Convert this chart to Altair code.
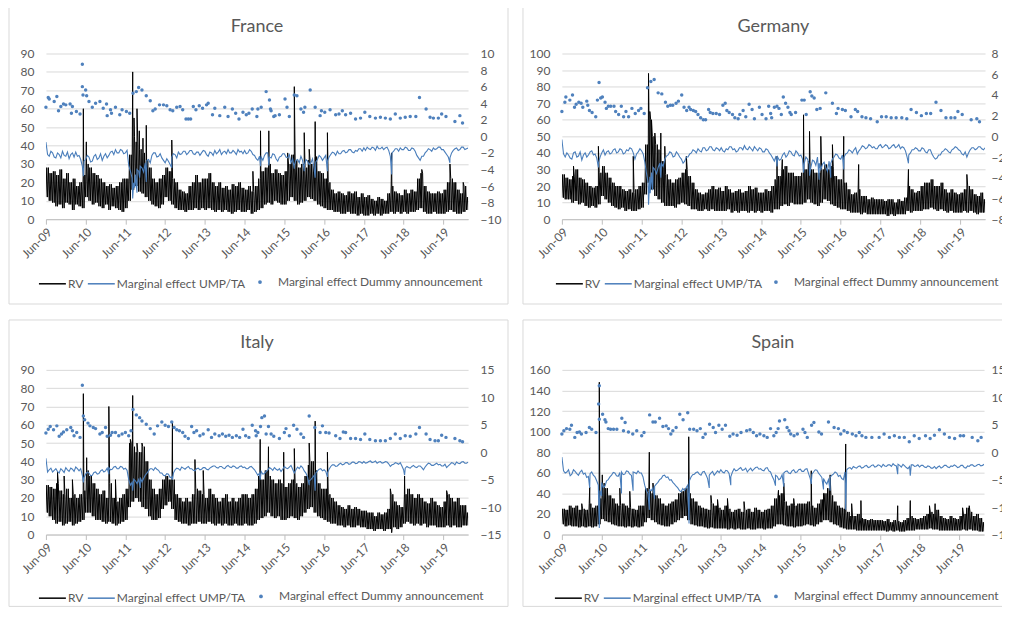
import altair as alt
import pandas as pd

# ---------------- data (t = months since Jun-2009) ----------------
SERIES = ["RV", "Marginal effect UMP/TA", "Marginal effect Dummy announcement"]

# France
FR_LO = [12,10,9,7,8,6,9,8,5,8,7,6, 12,10,8,9,7,6,8,5,7,6,5,4, 6,10,16,18,15,14,12,10,8,7,6,8,
         12,10,8,6,5,5,4,5,5,6,5,6, 5,6,5,4,5,4,5,4,3,4,5,4, 4,5,3,4,5,6,8,9,8,10,9,8,
         8,10,12,10,8,9,10,12,11,10,8,7, 6,5,5,4,4,3,3,4,3,3,2,3, 2,2,3,2,3,2,3,3,4,3,4,3,
         4,3,4,4,5,6,4,3,3,4,3,3, 3,4,5,4,3,3,4,5]
FR_HI = [28,25,26,24,27,22,25,20,22,18,20,24, 30,28,25,24,22,20,18,19,17,18,20,22, 22,35,45,42,38,36,32,28,22,20,22,24,
         28,26,22,20,16,15,14,18,20,24,20,22, 22,25,20,18,20,17,18,16,19,18,20,17, 16,18,15,18,22,26,28,30,25,27,25,24,
         26,30,35,32,28,30,28,32,30,34,26,25, 22,20,16,14,15,14,13,15,14,15,12,14, 12,13,11,10,12,11,10,14,18,15,14,13,
         16,14,16,15,22,25,18,15,14,14,15,14, 16,20,22,20,16,14,18,12]
FR_SPIKES = [(11.3,60),(12.2,42),(26.2,80),(26.6,55),(27.5,60),(28.2,48),(29.3,44),(30.3,51),(38.0,43),(62.5,26),
             (64.8,48),(67.3,48),(73.0,36),(75.0,72),(78.0,47),(79.5,38),(81.3,53),(85.0,47),(104.4,36),(113.5,27),
             (122.0,30),(126.0,20)]
FR_UMP = [-0.7,-2.4,-2.0,-2.6,-2.2,-1.8,-2.4,-2.7,-2.0,-1.9,-2.3,-3.6,
          -2.8,-2.5,-3.0,-2.2,-2.6,-2.9,-2.1,-2.3,-1.8,-1.6,-2.0,-1.7,
          -2.0,-3.5,-5.0,-4.6,-4.2,-3.8,-3.2,-2.8,-2.3,-2.0,-2.4,-2.6,
          -3.2,-3.0,-2.5,-2.2,-1.9,-2.1,-1.8,-2.0,-1.7,-2.2,-1.9,-2.0,
          -1.8,-2.4,-2.0,-1.7,-1.9,-2.2,-1.8,-1.6,-2.0,-1.9,-1.6,-1.8,
          -1.7,-2.0,-1.8,-2.3,-2.9,-2.5,-2.3,-2.0,-2.6,-2.2,-3.0,-2.4,
          -2.1,-2.6,-3.2,-3.5,-2.8,-2.4,-3.6,-3.0,-3.2,-4.0,-2.8,-2.5,
          -2.6,-3.0,-2.2,-2.0,-1.8,-2.1,-1.7,-1.9,-1.6,-2.0,-1.8,-1.5,
          -1.4,-1.3,-1.6,-1.4,-1.2,-1.5,-1.6,-1.3,-2.4,-1.8,-1.5,-1.4,
          -1.6,-1.4,-1.7,-1.5,-2.3,-2.9,-2.4,-1.8,-1.6,-1.4,-1.5,-1.3,
          -1.6,-2.2,-2.6,-1.7,-1.4,-1.6,-1.3,-1.5]
FR_UMP_MID = [-2.2,-1.8,-2.5,-2.0,-2.6,-2.3,-1.9,-2.2,-2.5,-2.4,-2.8,-3.0,
              -2.3,-3.1,-2.4,-2.8,-2.1,-2.4,-2.6,-1.9,-2.2,-2.0,-1.6,-2.1,
              -1.7,-4.2,-5.6,-4.0,-3.6,-4.3,-2.9,-3.2,-2.0,-2.5,-2.1,-2.9,
              -2.7,-3.4,-2.1,-2.6,-2.2,-1.8,-2.2,-1.7,-2.1,-1.9,-2.3,-1.7,
              -2.2,-1.9,-2.3,-2.1,-1.6,-1.9,-2.1,-2.0,-1.7,-2.2,-1.9,-2.1,
              -2.1,-1.6,-2.2,-2.7,-2.4,-2.9,-2.0,-2.5,-2.1,-2.7,-2.5,-2.1,
              -2.5,-2.2,-2.7,-2.9,-3.2,-2.9,-2.8,-3.4,-2.7,-3.1,-2.3,-2.9,
              -2.3,-2.5,-1.9,-2.3,-2.1,-1.8,-2.0,-1.6,-1.9,-1.7,-1.5,-1.8,
              -1.7,-1.5,-1.3,-1.7,-1.5,-1.3,-1.4,-1.7,-2.0,-1.5,-1.8,-1.6,
              -1.3,-1.7,-1.4,-1.8,-2.6,-2.4,-2.0,-1.5,-1.8,-1.6,-1.3,-1.6,
              -1.9,-2.5,-2.0,-1.5,-1.7,-1.3,-1.6,-1.4]
FR_DIPS = [(11.3,-4.8),(26.2,-7.5),(26.8,-6.2),(27.5,-6.8),(28.3,-5.0),(30.3,-5.5),(38.0,-3.8),(64.8,-3.6),
           (67.3,-3.5),(75.0,-3.9),(78.0,-4.2),(81.3,-5.0),(85.0,-4.2),(104.4,-4.6),(122.0,-3.2)]
FR_DOTS = [(0,3.5),(0.7,4.7),(1,4.5),(2.5,4.2),(3.3,4.8),(3.8,3.1),(4.5,3.6),(5.3,3.9),(6,3.8),(7.3,3.9),(7.7,2.8),
           (8,3.6),(9.2,3.0),(10.3,2.7),(11,8.7),(11,6.0),(11.2,5.0),(12,5.6),(12.3,4.9),(13,4.2),(14,3.5),(15,4.0),
           (16.3,4.2),(17.3,3.4),(18.3,3.9),(18.5,2.5),(19.5,3.2),(19.8,2.8),(21,3.5),(22.3,2.6),(23,3.2),(24.3,3.0),
           (25.3,2.8),(26.3,5.2),(27.3,5.4),(28,5.9),(29,5.6),(30.3,4.9),(31.5,4.3),(32.3,3.1),(33,3.3),(34.3,3.8),
           (35.5,3.8),(36.5,3.7),(37.5,3.2),(38.3,3.1),(39.5,3.5),(40.5,3.6),(41.3,3.2),(42.3,2.1),(43,2.1),(43.7,2.1),
           (44.5,3.6),(45.3,3.2),(46.3,3.7),(47.3,3.4),(48.5,3.8),(49,4.0),(50.3,2.6),(51,3.4),(52.5,2.5),(54,3.5),
           (55,2.4),(56.3,3.3),(57.3,2.8),(58.3,2.1),(59.5,2.9),(60.5,2.6),(61.3,2.8),(62.3,3.3),(63.7,2.4),(64,3.3),
           (65,3.5),(66.5,5.4),(67.5,4.4),(67.8,3.3),(68,3.1),(68.8,2.4),(69.2,2.5),(70.5,2.6),(72.2,4.5),(72.8,3.5),
           (73.5,2.4),(75,5.0),(75.8,4.9),(77,3.3),(77.8,2.9),(78.2,3.5),(79.8,5.6),(81.3,3.5),(82.8,2.5),(83.2,3.1),
           (84.2,2.9),(85.8,3.2),(87.5,2.6),(88.5,2.7),(89.5,3.1),(90.5,2.6),(92,2.8),(93.5,2.1),(95,2.2),(96.3,2.9),
           (97.8,2.4),(99.5,2.2),(101,2.3),(102.5,2.2),(104,2.1),(105.5,2.7),(107,2.2),(108.5,2.3),(110,2.4),
           (111.7,2.4),(112.8,4.7),(114.8,3.3),(116,2.3),(117,2.2),(118.5,2.2),(119.5,2.7),(120.8,2.4),(123.5,1.8),
           (125,2.5),(125.8,1.6)]

# Germany
DE_LO = [13,12,12,10,11,9,10,8,7,8,7,9, 14,12,10,8,7,6,7,5,6,5,5,6, 7,15,22,18,14,12,10,8,8,8,7,9,
         10,9,8,6,6,5,5,6,5,6,5,5, 5,5,6,4,5,4,5,5,4,5,4,5, 4,5,5,4,6,6,8,9,8,10,9,9,
         9,10,12,10,9,8,10,12,11,9,8,7, 6,6,5,4,4,4,3,4,3,3,3,3, 3,3,2,3,2,3,3,3,5,4,5,5,
         5,6,6,7,6,5,6,5,4,5,4,4, 4,5,4,5,4,3,4,4]
DE_HI = [27,25,24,26,30,25,24,22,20,19,20,28, 32,28,25,22,20,20,18,17,18,16,18,20, 22,45,60,50,45,42,35,27,24,22,24,25,
         28,30,26,22,18,16,15,16,18,20,18,19, 17,20,18,16,17,18,16,17,20,18,19,16, 16,18,17,20,24,26,30,32,28,28,26,26,
         28,30,35,30,28,28,30,33,30,32,26,24, 24,22,18,15,16,18,14,14,12,13,12,12, 12,11,12,12,10,12,11,13,20,18,16,17,
         20,22,22,24,20,20,22,18,16,18,16,15, 16,18,20,18,15,14,16,12]
DE_SPIKES = [(3.5,32),(11.0,44),(21.5,38),(26.1,88),(26.5,65),(27.0,60),(28.0,52),(29.8,52),(31.0,44),(37.5,38),
             (64.8,38),(66.4,36),(72.8,63),(74.6,53),(78.0,50),(81.5,45),(84.9,50),(89.4,33),(104.4,30),(122.0,27)]
DE_UMP = [-0.3,-2.0,-1.8,-2.2,-1.5,-1.9,-2.3,-1.6,-1.8,-1.4,-1.7,-2.6,
          -1.6,-1.8,-1.4,-1.6,-1.2,-1.5,-1.3,-1.6,-1.4,-1.2,-2.2,-1.5,
          -1.4,-2.5,-4.5,-3.5,-3.2,-3.0,-2.6,-2.2,-1.8,-1.6,-1.9,-1.7,
          -2.2,-2.4,-2.0,-1.6,-1.4,-1.2,-1.5,-1.1,-1.3,-1.0,-1.4,-1.2,
          -1.1,-1.5,-1.3,-1.0,-1.2,-1.4,-1.1,-0.9,-1.3,-1.2,-1.0,-1.4,
          -1.2,-1.5,-1.3,-1.8,-2.4,-2.0,-2.2,-1.6,-1.8,-1.5,-1.9,-1.6,
          -1.8,-2.6,-2.2,-3.0,-2.4,-2.0,-3.2,-2.5,-3.4,-2.6,-2.0,-1.8,
          -2.2,-2.0,-1.6,-1.4,-1.3,-1.7,-1.2,-1.0,-1.1,-0.9,-1.0,-1.2,
          -0.8,-1.0,-0.9,-1.1,-0.8,-1.0,-1.2,-1.1,-2.0,-1.6,-1.3,-1.2,
          -1.4,-1.2,-1.6,-1.3,-2.0,-2.1,-1.8,-1.4,-1.3,-1.6,-1.2,-1.1,
          -1.4,-1.8,-2.0,-1.3,-1.1,-1.2,-1.0,-1.3]
DE_UMP_MID = [-1.7,-1.6,-2.1,-1.6,-2.0,-1.5,-1.8,-2.0,-1.5,-1.8,-2.1,-2.0,
              -1.3,-1.5,-1.7,-1.3,-1.6,-1.2,-1.7,-1.3,-1.1,-1.6,-1.7,-1.2,
              -1.7,-3.6,-3.9,-3.0,-3.6,-2.6,-2.9,-1.9,-1.5,-2.0,-1.5,-2.0,
              -2.6,-2.0,-1.7,-1.3,-1.6,-1.4,-1.1,-1.4,-1.0,-1.3,-1.1,-1.4,
              -1.4,-1.2,-1.0,-1.3,-1.5,-1.1,-1.3,-1.2,-1.0,-1.4,-1.2,-1.1,
              -1.5,-1.2,-1.6,-2.1,-1.9,-2.3,-1.8,-2.0,-1.4,-1.8,-1.4,-1.9,
              -2.2,-2.0,-2.7,-2.3,-2.8,-2.6,-2.7,-3.0,-2.4,-2.2,-1.7,-2.1,
              -1.8,-1.7,-1.3,-1.6,-1.1,-1.4,-0.9,-1.2,-0.8,-1.1,-1.2,-0.9,
              -1.1,-0.8,-1.2,-0.9,-1.1,-0.8,-1.0,-1.4,-1.8,-1.3,-1.1,-1.4,
              -1.1,-1.5,-1.3,-1.7,-2.2,-1.8,-1.5,-1.2,-1.5,-1.3,-1.0,-1.3,
              -1.7,-1.5,-1.6,-1.1,-1.3,-1.0,-1.2,-1.1]
DE_DIPS = [(11.0,-3.0),(26.1,-6.6),(26.6,-5.5),(27.3,-5.2),(29.8,-4.0),(64.8,-2.9),(72.8,-3.5),(74.6,-3.8),
           (77.5,-4.2),(81.0,-4.0),(84.9,-3.2),(104.4,-2.6)]
DE_DOTS = [(0,2.4),(0.9,3.3),(1.2,3.8),(2.4,3.5),(3.2,4.0),(3.8,2.8),(4.3,3.1),(5.1,3.3),(5.8,3.2),(6.3,2.8),
           (7.5,3.4),(7.8,3.0),(8.3,2.5),(9.1,2.3),(10.2,1.9),(10.7,3.5),(11.2,5.2),(11.7,3.7),(12.2,3.8),(13,3.3),
           (13.4,2.7),(14,2.9),(14.7,2.9),(15.7,2.9),(16.2,2.4),(17.1,2.1),(17.9,2.9),(18.6,1.9),(19.3,2.4),(20.1,1.9),
           (21.1,2.7),(22.1,2.2),(23.1,2.5),(23.8,2.7),(24.8,2.2),(25.8,4.7),(26.8,5.3),(27.8,5.5),(29,4.2),(30.1,4.1),
           (31.2,3.3),(31.9,2.9),(32.7,3.0),(33.4,3.0),(34.4,3.2),(35.1,3.4),(36.1,4.0),(36.8,2.8),(37.6,2.5),
           (38.3,2.8),(38.8,2.6),(39.6,2.5),(40.3,2.4),(41,2.1),(41.8,1.8),(42.6,1.6),(43.3,1.6),(44.2,2.6),(44.7,2.3),
           (45.5,2.2),(46.5,2.2),(47.5,2.1),(48.5,3.0),(49.2,3.2),(49.7,2.5),(50.4,2.3),(51.4,2.1),(52.1,1.8),
           (53.1,1.7),(53.6,2.1),(54.6,2.5),(55.4,1.9),(56.4,3.1),(57.3,2.6),(58,1.7),(59.5,2.8),(60.3,2.1),(61.5,1.7),
           (62.3,2.9),(62.9,2.2),(63.2,1.8),(64,2.8),(64.8,2.9),(65.4,2.7),(66.1,2.1),(66.7,3.8),(67.4,3.2),(68.1,2.8),
           (68.7,2.3),(69.1,2.1),(70.4,2.3),(72.3,3.5),(73,3.5),(73.6,2.1),(74.8,4.3),(75.3,3.9),(76,3.7),(76.8,2.6),
           (77.8,2.7),(79.5,4.2),(81.5,3.2),(82.7,2.2),(83.2,2.7),(84.5,2.6),(85.4,2.5),(87.1,1.9),(88.4,2.6),
           (89.1,2.4),(90.4,1.9),(91.6,1.8),(93,1.7),(95,1.4),(96.3,1.9),(97.7,1.9),(99.2,1.8),(100.7,1.8),(102.4,1.8),
           (103.9,1.7),(105.2,2.6),(106.8,2.3),(108.3,2.0),(109.8,2.2),(111.1,2.2),(112.7,3.3),(114.2,2.5),
           (115.7,1.8),(117.2,1.8),(118.4,1.8),(119.3,2.4),(120.6,2.1),(123.3,1.6),(125,1.7),(125.8,1.4)]

# Italy
IT_LO = [12,10,8,6,7,5,6,7,5,6,7,8, 12,12,10,8,8,7,6,7,6,5,6,7, 8,15,18,20,18,15,14,10,8,8,9,14,
         16,18,14,8,7,6,6,5,6,6,7,6, 6,7,6,5,6,5,6,5,5,6,5,5, 6,5,5,6,8,9,10,12,10,9,10,8,
         8,9,10,9,8,10,12,14,15,12,10,9, 8,7,6,6,5,5,4,5,4,4,5,4, 4,3,3,2,3,3,2,3,3,4,3,4,
         6,7,6,5,6,5,6,4,5,5,4,4, 4,5,4,5,4,4,5,5]
IT_HI = [27,26,25,28,24,22,25,20,22,20,22,24, 35,32,28,25,22,24,20,28,20,18,20,22, 25,50,48,45,45,48,40,30,25,22,25,30,
         32,30,30,22,20,18,20,18,22,25,24,22, 20,25,22,20,18,20,22,18,20,18,20,22, 22,20,22,25,32,30,35,32,30,28,30,28,
         26,28,30,28,26,28,32,38,40,35,28,25, 25,22,20,18,16,15,14,16,14,15,14,13, 13,12,12,10,12,11,12,14,22,18,16,15,
         22,25,22,20,22,20,18,17,20,18,16,15, 18,22,20,18,20,16,16,12]
IT_SPIKES = [(3.5,34),(5.5,32),(8.0,30),(11.3,77),(12.3,42),(19.0,70),(21.0,30),(25.5,52),(26.2,76),(27.5,50),
             (29.0,50),(38.2,61),(45.0,41),(47.5,35),(64.7,52),(67.2,48),(71.8,45),(75.0,47),(79.5,50),(81.3,62),
             (85.0,45),(104.0,25),(104.4,1),(108.3,32),(121.0,24)]
IT_UMP = [-1.1,-3.2,-3.6,-3.0,-3.8,-3.3,-2.8,-3.5,-3.1,-2.7,-3.4,-4.2,
          -4.0,-3.8,-4.2,-3.6,-3.9,-3.2,-3.4,-2.8,-3.1,-2.6,-3.0,-2.7,
          -2.9,-5.0,-5.5,-5.2,-5.0,-5.4,-4.2,-3.4,-3.0,-2.8,-3.3,-3.8,
          -4.3,-4.0,-4.5,-3.2,-3.0,-2.7,-3.1,-2.6,-3.0,-3.4,-2.9,-3.1,
          -2.8,-3.2,-2.7,-2.5,-2.9,-2.6,-3.0,-2.4,-2.8,-2.6,-2.9,-2.5,
          -2.7,-3.0,-2.6,-3.2,-4.2,-3.5,-3.9,-3.2,-3.0,-2.8,-3.3,-3.5,
          -2.6,-3.0,-2.4,-3.8,-2.7,-2.5,-3.4,-4.5,-5.0,-4.2,-3.4,-3.0,
          -3.2,-3.8,-2.6,-2.3,-2.5,-2.0,-2.2,-1.9,-2.1,-1.8,-2.0,-1.8,
          -1.7,-1.9,-1.6,-1.8,-2.0,-1.7,-1.9,-1.8,-2.6,-2.2,-2.0,-1.9,
          -3.2,-2.6,-2.9,-2.4,-2.8,-2.5,-3.2,-2.3,-2.1,-2.4,-2.0,-2.2,
          -2.5,-2.8,-2.2,-2.0,-1.8,-2.1,-1.7,-2.0]
IT_UMP_MID = [-3.6,-2.9,-3.3,-3.5,-3.0,-3.7,-3.2,-2.9,-3.5,-3.0,-3.0,-4.6,
              -3.6,-4.3,-3.7,-4.0,-3.4,-3.6,-2.9,-3.2,-2.7,-3.0,-2.6,-3.1,
              -3.3,-6.0,-4.9,-5.7,-4.6,-4.8,-3.8,-3.0,-3.3,-3.1,-3.8,-4.2,
              -3.9,-4.6,-3.8,-2.9,-3.3,-2.9,-2.8,-3.0,-3.3,-3.0,-3.2,-2.8,
              -3.1,-2.9,-2.5,-2.8,-2.6,-2.9,-2.6,-2.7,-2.5,-2.9,-2.6,-2.8,
              -3.0,-2.7,-2.9,-3.7,-3.8,-4.0,-3.5,-2.8,-3.3,-3.1,-3.0,-3.1,
              -2.9,-2.7,-3.1,-3.2,-3.0,-2.8,-3.8,-5.2,-4.6,-3.8,-3.1,-3.4,
              -3.5,-3.1,-2.3,-2.6,-2.2,-2.3,-1.9,-2.2,-1.8,-2.1,-1.7,-2.0,
              -2.0,-1.7,-1.9,-1.6,-1.8,-2.0,-1.7,-2.1,-2.3,-1.9,-2.2,-2.5,
              -2.9,-2.8,-2.6,-2.7,-2.5,-2.8,-2.7,-2.0,-2.4,-2.2,-2.3,-2.5,
              -2.2,-2.5,-1.9,-2.3,-2.0,-1.8,-2.0,-1.8]
IT_DIPS = [(11.3,-5.5),(19.0,-4.0),(25.5,-6.0),(26.2,-7.0),(28.5,-6.5),(38.2,-5.0),(64.7,-5.0),(79.5,-6.0),
           (81.3,-7.0),(85.0,-4.5),(108.3,-4.2)]
IT_DOTS = [(0,3.5),(0.7,4.2),(1.3,4.7),(2.3,4.1),(3.3,4.8),(4,2.9),(4.7,3.3),(5.3,3.7),(6.3,4.1),(7.5,4.5),(8,3.9),
           (8.5,3.0),(9.3,3.6),(10.3,2.7),(11,12.2),(11.3,6.6),(11.7,5.9),(12.7,5.3),(13.3,4.8),(14.3,4.5),(15,4.3),
           (16.3,3.3),(17,3.6),(18,4.5),(18.5,2.9),(19.5,3.1),(20,3.6),(21,3.6),(22,3.0),(23,3.3),(24,3.6),(25,3.0),
           (25.7,3.9),(26.3,7.8),(27.3,6.8),(28.3,6.3),(29,5.7),(30.3,5.1),(31.5,4.3),(32.7,3.3),(33.7,4.8),(35,5.5),
           (36,4.9),(37,4.7),(38,5.5),(38.7,4.5),(39.5,4.1),(40.3,3.9),(41.3,3.6),(42,2.9),(43,2.5),(44,4.7),(44.7,3.6),
           (45.5,3.9),(46.5,3.0),(47.5,3.3),(49,4.1),(50,2.7),(51,3.3),(52.3,3.0),(53.3,3.3),(54.3,2.9),(55.3,3.1),
           (56.3,2.7),(57.5,3.0),(58.5,2.7),(59.5,4.2),(60.3,3.0),(61.3,2.7),(62.3,4.9),(63.3,3.9),(63.5,3.0),(64,3.6),
           (64.8,4.7),(65.2,6.3),(66,6.6),(66.5,3.3),(67.2,4.7),(68,3.3),(68.8,2.9),(70.5,2.5),(72,3.6),(72.5,4.3),
           (73.5,3.0),(74.8,4.9),(75.8,4.2),(77,3.3),(77.8,2.7),(79.5,6.6),(81.2,4.5),(82.8,3.6),(83.5,4.8),(84.5,3.6),
           (85.5,3.5),(87.5,3.0),(88.8,2.5),(89.8,3.7),(90.5,3.6),(92,2.5),(93.5,2.5),(95,2.3),(96.3,3.3),(97.8,2.3),
           (99.5,2.1),(101,2.1),(102.5,2.1),(104,2.5),(105.5,3.3),(107,2.5),(108.5,3.0),(110,2.9),(111.7,3.3),
           (112.8,4.5),(114.8,3.3),(116,2.3),(117.5,2.1),(118.5,2.1),(119.5,3.1),(120.8,2.7),(123.5,2.5),(125,2.1),
           (125.8,1.9)]

# Spain
ES_LO = [10,8,9,8,8,7,8,7,8,7,8,10, 15,13,12,10,9,8,8,7,8,7,8,7, 8,12,16,14,12,10,9,8,8,10,12,14,
         16,18,14,10,9,8,8,7,6,7,6,6, 6,6,5,6,5,6,5,5,6,5,5,6, 6,5,6,6,8,10,10,9,8,8,7,8,
         8,9,10,9,8,10,12,14,14,12,10,9, 7,6,5,5,5,4,4,4,4,4,4,4, 4,4,3,4,3,4,3,3,4,4,4,5,
         5,5,5,6,5,5,4,4,4,4,4,4, 4,5,4,5,4,4,3,3]
ES_HI = [25,24,28,26,28,24,25,24,30,26,28,35, 50,45,38,35,30,28,30,28,26,25,24,28, 28,45,42,40,38,35,30,28,30,32,34,40,
         42,45,40,35,32,28,26,25,24,30,28,26, 24,28,25,22,24,25,22,24,25,22,26,24, 22,24,25,28,35,38,40,32,28,30,28,30,
         30,30,32,28,26,30,34,40,45,38,32,28, 26,25,22,18,18,20,16,15,14,15,14,14, 14,13,15,12,14,13,12,14,16,18,16,15,
         16,18,20,22,20,24,18,16,15,18,16,15, 18,20,26,22,18,20,16,12]
ES_SPIKES = [(6.0,30),(8.4,46),(11.3,148),(12.2,58),(17.5,45),(20.5,42),(26.4,80),(27.5,50),(38.3,95),(45.0,38),
             (47.0,34),(50.0,35),(55.0,32),(65.4,43),(67.0,50),(70.0,35),(75.3,62),(79.0,40),(81.0,58),(85.7,88),
             (87.5,30),(90.3,33),(101.4,28),(105.2,33),(111.0,28),(112.7,30),(121.0,26),(123.0,28)]
ES_UMP = [-0.9,-3.8,-3.2,-4.0,-3.5,-4.2,-3.3,-3.8,-4.4,-3.6,-4.5,-6.0,
          -5.5,-6.2,-5.0,-4.2,-3.8,-4.4,-3.6,-4.0,-3.5,-4.2,-3.7,-3.4,
          -3.8,-6.0,-7.5,-7.0,-6.2,-5.5,-4.8,-4.2,-4.5,-5.0,-5.8,-6.5,
          -7.2,-7.0,-6.0,-4.5,-4.0,-3.6,-4.2,-3.5,-4.8,-3.8,-4.2,-3.4,
          -3.2,-3.8,-3.4,-4.5,-3.0,-3.3,-2.8,-3.2,-3.6,-2.9,-3.1,-2.7,
          -3.0,-3.4,-2.8,-3.6,-5.0,-4.4,-4.8,-3.8,-3.4,-3.9,-3.2,-3.6,
          -3.1,-3.5,-3.0,-4.8,-3.6,-3.3,-4.2,-4.8,-5.8,-4.6,-4.0,-3.8,
          -4.2,-5.0,-3.2,-2.8,-2.6,-2.9,-2.5,-2.8,-2.4,-2.7,-2.3,-2.6,
          -2.4,-2.2,-2.6,-2.3,-2.1,-2.5,-2.4,-2.2,-2.8,-2.6,-2.3,-2.5,
          -2.7,-2.4,-2.8,-2.6,-2.9,-3.0,-2.5,-2.7,-2.4,-2.8,-2.6,-2.5,
          -2.7,-2.4,-2.9,-2.6,-2.3,-2.5,-2.2,-2.4]
ES_UMP_MID = [-3.4,-3.6,-4.3,-3.2,-3.9,-3.6,-4.0,-4.6,-3.9,-4.2,-5.2,-7.0,
              -6.4,-5.2,-4.5,-3.7,-4.3,-3.7,-4.1,-3.4,-4.0,-3.6,-3.9,-3.8,
              -4.5,-7.0,-6.8,-6.5,-5.8,-5.0,-4.3,-4.6,-5.1,-5.5,-6.2,-7.0,
              -6.6,-6.5,-5.2,-4.1,-3.7,-4.0,-3.6,-4.1,-4.2,-3.5,-3.8,-3.7,
              -3.6,-3.3,-3.9,-3.6,-3.4,-3.0,-3.3,-2.9,-3.2,-3.4,-2.8,-3.1,
              -3.3,-2.9,-3.4,-4.4,-4.2,-5.0,-4.1,-3.5,-3.8,-3.4,-3.7,-3.2,
              -3.5,-3.1,-3.9,-4.0,-3.2,-3.8,-4.6,-5.4,-5.0,-4.2,-3.6,-4.4,
              -4.8,-3.6,-2.9,-3.1,-2.8,-2.6,-2.9,-2.5,-2.8,-2.4,-2.7,-2.3,
              -2.7,-2.5,-2.3,-2.6,-2.4,-2.2,-2.7,-2.5,-3.0,-2.3,-2.6,-2.3,
              -2.4,-2.7,-2.5,-2.9,-2.6,-2.7,-2.9,-2.4,-2.7,-2.5,-2.3,-2.8,
              -2.4,-2.8,-2.5,-2.3,-2.6,-2.3,-2.5,-2.2]
ES_DIPS = [(8.4,-6.5),(11.3,-13.8),(12.0,-8.0),(18.0,-7.5),(21.5,-7.0),(26.4,-10.5),(28.0,-8.5),(38.4,-13.0),
           (44.5,-6.5),(51.0,-6.0),(64.5,-6.1),(67.0,-6.3),(75.3,-5.8),(79.0,-6.8),(81.0,-7.0),(85.7,-10.5),
           (101.4,-4.0),(105.2,-4.3)]
ES_DOTS = [(0,3.3),(0.6,3.9),(1.4,4.3),(2.4,4.2),(2.9,4.9),(3.9,2.7),(4.6,3.6),(5.3,3.7),(5.9,3.3),(7.3,3.6),
           (8.3,4.5),(9,4.2),(10.3,3.6),(11.1,8.8),(11.3,12.1),(11.3,6.0),(12.3,6.9),(13,5.9),(13.3,5.5),(14,4.3),
           (14.7,4.2),(15.6,4.2),(16.6,4.2),(18.1,6.2),(18.6,3.9),(19.1,5.4),(20.1,3.7),(21.4,3.3),(22.6,3.9),(24.1,3.0),
           (24.8,3.6),(26.5,6.8),(27.5,5.5),(28.2,5.5),(29.5,6.2),(30.5,4.7),(31.5,4.8),(32.2,4.3),(32.9,3.3),(33.5,3.9),
           (34.5,4.5),(35.6,6.9),(36.6,5.9),(38,7.2),(38.6,4.2),(39.8,4.2),(40.8,3.9),(41.8,4.3),(42.6,2.7),(43.3,3.3),
           (44.6,5.1),(45.7,4.5),(46.4,3.6),(47.4,4.9),(48.4,4.2),(49.4,4.9),(50.7,2.9),(51.7,3.3),(52.9,3.1),(54.1,3.6),
           (55.8,3.9),(56.8,4.1),(57.8,3.6),(58.8,3.0),(59.8,3.3),(61,3.0),(62,2.7),(63,4.3),(64,3.0),(64.7,3.6),
           (65.3,4.3),(65.7,5.7),(67.3,5.9),(68,4.5),(68.6,3.9),(69.1,3.3),(70.1,3.0),(71.1,3.3),(72.8,4.2),(73.4,3.6),
           (74.1,2.7),(75.4,4.9),(76.1,5.4),(77.6,3.7),(78.4,3.3),(80.5,5.5),(82.2,4.5),(83.5,4.3),(84.2,3.3),(85.2,3.9),
           (86.2,3.6),(87.7,3.3),(88.8,3.0),(89.8,3.6),(90.6,3.0),(91.8,2.7),(93.6,2.7),(95.8,2.7),(97.3,3.3),(98.9,2.7),
           (100.4,3.0),(101.9,2.7),(103.4,2.7),(104.9,1.9),(106.4,3.0),(107.9,2.5),(109.8,3.0),(111.2,2.5),(112.5,3.1),
           (114,4.1),(115.5,3.3),(117,2.7),(118.6,2.5),(120.3,3.0),(121.3,3.0),(123.9,2.7),(125.6,2.1),(126.6,2.7)]

# ---------------- styling ----------------
FONT = "Lato"
GREY = "#595959"
GRID = "#d9d9d9"
LINE_BLUE = "#4a7ebb"
DOT_BLUE = "#4f81bd"
START = pd.Timestamp("2009-06-01")
T_END = 127.5


def to_dates(ts):
    return [START + pd.Timedelta(days=float(t) * 30.4375) for t in ts]


END = to_dates([T_END])[0]
XDOM = [alt.DateTime(year=2009, month=6, date=1),
        alt.DateTime(year=END.year, month=END.month, date=END.day)]
XTICKS = [alt.DateTime(year=y, month=6, date=1) for y in range(2009, 2020)]


def line_legend(lx, ly):
    return alt.Legend(title=None, orient="none", legendX=lx, legendY=ly, direction="horizontal",
                      symbolType="stroke", symbolSize=729, symbolStrokeWidth=1.5,
                      labelFont=FONT, labelFontSize=12, labelColor=GREY, labelOffset=1,
                      labelLimit=400, columnPadding=1, padding=0)


def dot_legend(lx, ly):
    return alt.Legend(title=None, orient="none", legendX=lx, legendY=ly, direction="horizontal",
                      symbolType="circle", symbolSize=14, symbolStrokeWidth=0,
                      labelFont=FONT, labelFontSize=12, labelColor=GREY, labelOffset=12,
                      labelLimit=400, padding=0)


def panel(name, lo, hi, spikes, ump, ump_mid, dips, dots, ymax, ystep, rlim, rstep, w, h, border,
          lx, ly, dx, rpad, toff):
    rv = [(i + f, v) for i in range(len(lo)) for f, v in ((0, lo[i]), (0.25, hi[i]), (0.5, lo[i]), (0.75, hi[i]))]
    rv = sorted(rv + list(spikes))
    um = sorted([(i, v) for i, v in enumerate(ump)] + [(i + 0.5, v) for i, v in enumerate(ump_mid)] + list(dips))
    rv_df = pd.DataFrame({"date": to_dates([p[0] for p in rv]), "value": [p[1] for p in rv], "series": SERIES[0]})
    um_df = pd.DataFrame({"date": to_dates([p[0] for p in um]), "value": [p[1] for p in um], "series": SERIES[1]})
    dt_df = pd.DataFrame({"date": to_dates([p[0] for p in dots]), "value": [p[1] for p in dots], "series": SERIES[2]})

    x = alt.X("date:T", scale=alt.Scale(domain=XDOM),
              axis=alt.Axis(values=XTICKS, format="%b-%y", labelAngle=315, title=None, grid=False,
                            domainColor="#bfbfbf", tickColor="#bfbfbf", tickSize=5, labelPadding=2,
                            labelFlush=False, labelOverlap=False))
    color = alt.Color("series:N", scale=alt.Scale(domain=SERIES[:2], range=["#000000", LINE_BLUE]),
                      legend=line_legend(lx, ly))
    fill = alt.Fill("series:N", scale=alt.Scale(domain=SERIES[2:], range=[DOT_BLUE]),
                    legend=dot_legend(dx, ly + 7))
    raxis = alt.Axis(orient="right", values=list(range(-rlim, rlim + 1, rstep)), grid=False,
                     domain=False, ticks=False, tickSize=0, labelPadding=rpad, title=None,
                     labelOverlap=False)
    rscale = alt.Scale(domain=[-rlim, rlim], nice=False, zero=False)

    frame = alt.Chart(pd.DataFrame({"k": [0]})).mark_rect(fill="transparent", stroke=GRID, strokeWidth=1).encode(
        x=alt.value(border[0]), x2=alt.value(border[1]), y=alt.value(border[2]), y2=alt.value(border[3]))
    rv_line = alt.Chart(rv_df).mark_line(strokeWidth=1, clip=True).encode(
        x=x,
        y=alt.Y("value:Q", scale=alt.Scale(domain=[0, ymax], nice=False, zero=False),
                axis=alt.Axis(orient="left", values=list(range(0, ymax + 1, ystep)), grid=True, gridColor=GRID,
                              domain=False, ticks=False, tickSize=0, labelPadding=12, title=None,
                              labelOverlap=False)),
        color=color)
    ump_line = alt.Chart(um_df).mark_line(strokeWidth=1.1, clip=True).encode(
        x=x, y=alt.Y("value:Q", scale=rscale, axis=raxis), color=color)
    dot = alt.Chart(dt_df).mark_circle(size=12, opacity=1).encode(
        x=x, y=alt.Y("value:Q", scale=rscale, axis=raxis), fill=fill)
    right = alt.layer(ump_line, dot)
    return alt.layer(frame, rv_line, right).resolve_scale(y="independent").properties(
        width=w, height=h,
        title=alt.Title(name, offset=toff, fontSize=18, color=GREY, font=FONT, fontWeight="normal",
                        anchor="middle", frame="group"))


fr = panel("France", FR_LO, FR_HI, FR_SPIKES, FR_UMP, FR_UMP_MID, FR_DIPS, FR_DOTS, 90, 10, 10, 2, 423, 166,
           (-37, 463, -49, 251), -8, 216, 208.5, 12, -32)
de = panel("Germany", DE_LO, DE_HI, DE_SPIKES, DE_UMP, DE_UMP_MID, DE_DIPS, DE_DOTS, 100, 10, 8, 2, 424, 166,
           (-39, 458, -49, 251), -7, 216, 208.5, 6, -32)
it = panel("Italy", IT_LO, IT_HI, IT_SPIKES, IT_UMP, IT_UMP_MID, IT_DIPS, IT_DOTS, 90, 10, 15, 5, 423, 165,
           (-37, 463, -50, 237), -8, 214, 209.5, 12, -33)
es = panel("Spain", ES_LO, ES_HI, ES_SPIKES, ES_UMP, ES_UMP_MID, ES_DIPS, ES_DOTS, 160, 20, 15, 5, 423, 165,
           (-39, 458, -50, 237), -8, 214, 208.5, 7, -33)

RES = dict(color="independent", fill="independent", x="independent", y="independent")
chart = alt.concat(fr, de, it, es, columns=2, spacing={"row": 151, "column": 94}, bounds="flush").resolve_scale(**RES)
chart = chart.properties(padding={"left": 0, "top": -5, "right": -18, "bottom": 0})
chart = chart.configure(font=FONT).configure_view(stroke=None).configure_axis(
    labelFont=FONT, labelFontSize=12, labelColor=GREY, labelOverlap=False)

chart.save("out.html", embed_options={"renderer": "svg", "actions": False})
